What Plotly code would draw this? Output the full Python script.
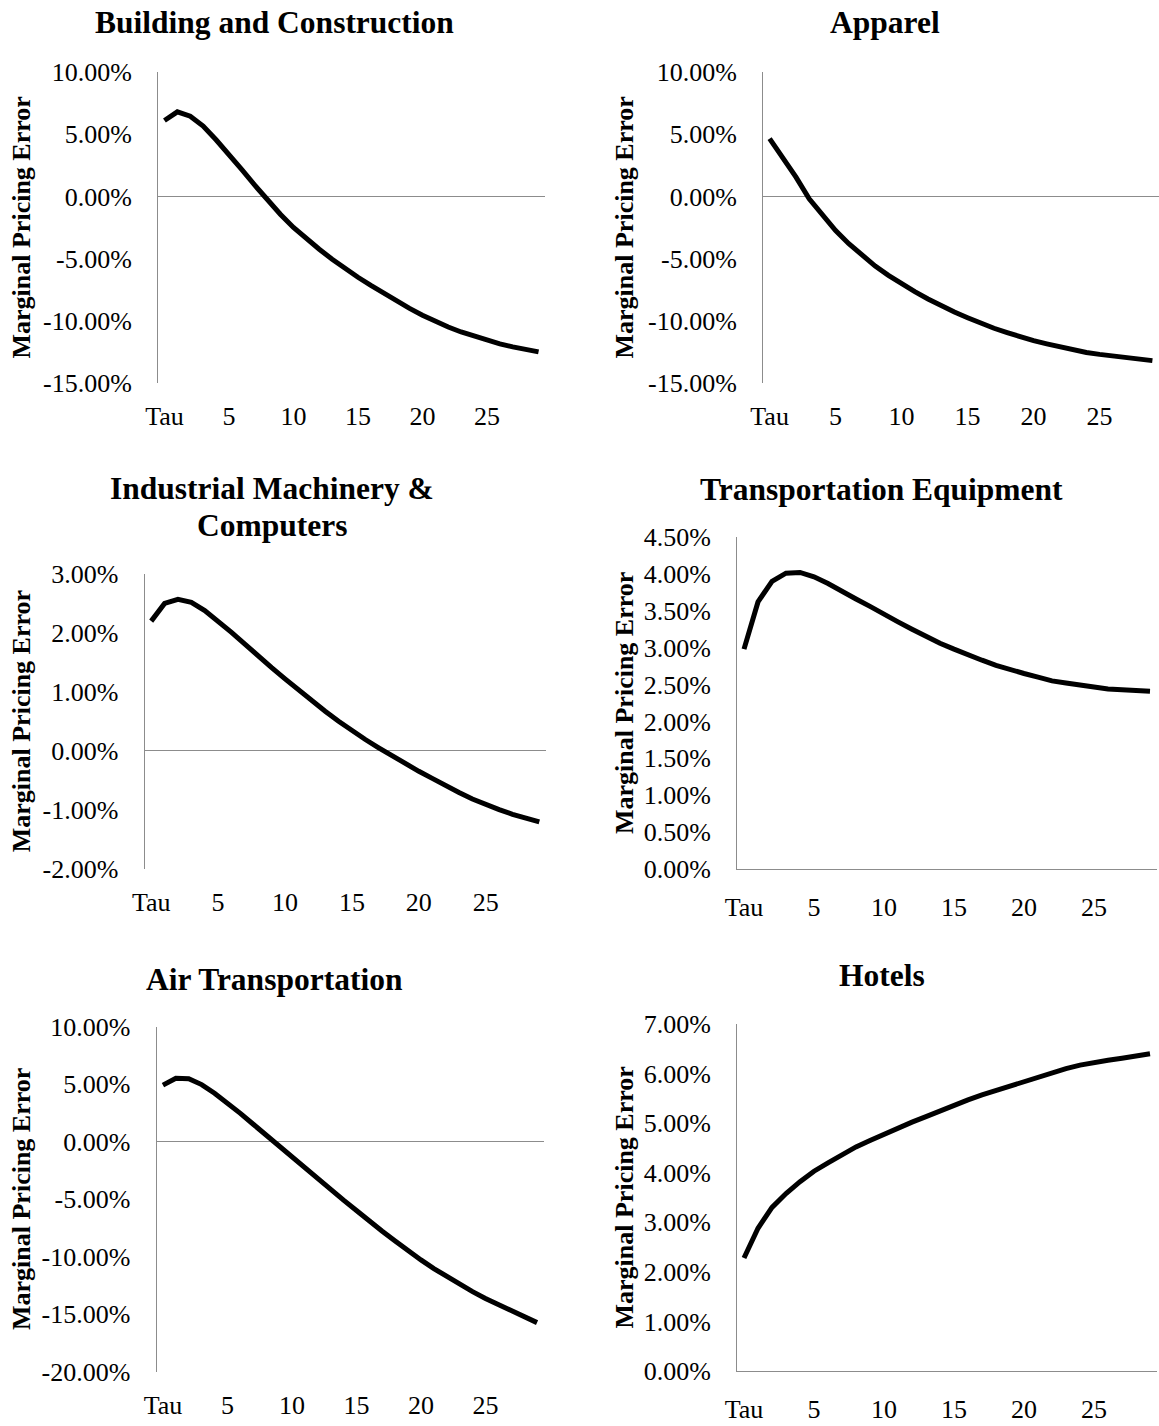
import plotly.graph_objects as go

# Horizon categories: "Tau" followed by 1..29
CATEGORIES = ["Tau"] + [str(i) for i in range(1, 30)]
X_TICKS = ["Tau", "5", "10", "15", "20", "25"]

TITLES = [
    "Building and Construction",
    "Apparel",
    "Industrial Machinery &<br>Computers",
    "Transportation Equipment",
    "Air Transportation",
    "Hotels",
]
Y_TITLE = "Marginal Pricing Error"

# Marginal pricing error (%) by horizon
building = [6.1, 6.8, 6.45, 5.65, 4.55, 3.4, 2.15, 0.9, -0.35, -1.45, -2.5, -3.4, -4.25, -5.05,
            -5.8, -6.5, -7.15, -7.8, -8.4, -9.0, -9.55, -10.05, -10.5, -10.9, -11.25, -11.55,
            -11.85, -12.1, -12.3, -12.5]
apparel = [4.65, 3.15, 1.55, -0.2, -1.55, -2.75, -3.8, -4.75, -5.6, -6.35, -7.05, -7.65, -8.25,
           -8.8, -9.3, -9.75, -10.2, -10.6, -10.95, -11.3, -11.6, -11.85, -12.1, -12.35, -12.55,
           -12.7, -12.85, -13.0, -13.1, -13.2]
machinery = [2.2, 2.5, 2.57, 2.52, 2.38, 2.2, 2.01, 1.81, 1.6, 1.41, 1.22, 1.03, 0.85, 0.67, 0.5,
             0.34, 0.19, 0.05, -0.09, -0.22, -0.35, -0.47, -0.6, -0.71, -0.82, -0.92, -1.0,
             -1.08, -1.15, -1.21]
transport_eq = [2.98, 3.62, 3.9, 4.01, 4.02, 3.96, 3.87, 3.76, 3.66, 3.56, 3.45, 3.35, 3.25, 3.15,
                3.06, 2.98, 2.9, 2.83, 2.76, 2.7, 2.65, 2.6, 2.55, 2.52, 2.49, 2.46, 2.44, 2.43,
                2.42, 2.41]
air = [4.9, 5.5, 5.45, 4.95, 4.2, 3.35, 2.45, 1.5, 0.55, -0.4, -1.4, -2.35, -3.3, -4.2, -5.1, -6.0,
       -6.95, -7.8, -8.65, -9.5, -10.3, -11.05, -11.75, -12.4, -13.05, -13.65, -14.2, -14.75,
       -15.25, -15.75]
hotels = [2.28, 2.88, 3.3, 3.58, 3.82, 4.03, 4.2, 4.37, 4.52, 4.65, 4.78, 4.9, 5.02, 5.13, 5.25,
          5.36, 5.47, 5.57, 5.66, 5.75, 5.84, 5.92, 6.02, 6.1, 6.17, 6.23, 6.27, 6.31, 6.35, 6.4]

SERIES = [building, apparel, machinery, transport_eq, air, hotels]

# y-axis tick values (%) per panel
Y_TICKS = [
    [10, 5, 0, -5, -10, -15],
    [10, 5, 0, -5, -10, -15],
    [3, 2, 1, 0, -1, -2],
    [4.5, 4.0, 3.5, 3.0, 2.5, 2.0, 1.5, 1.0, 0.5, 0.0],
    [10, 5, 0, -5, -10, -15, -20],
    [7, 6, 5, 4, 3, 2, 1, 0],
]

W, H = 1159, 1426
FONT = "Liberation Serif"
GREY = "#8c8c8c"

# panel boxes in pixels: (left, right, top, bottom)
BOXES = [
    (158, 545, 72, 383),
    (763, 1159, 72, 383),
    (144.5, 546, 574, 868.5),
    (737, 1157, 537, 869),
    (156.5, 543.5, 1026.5, 1371.5),
    (737, 1157, 1024, 1371),
]
# centre of the first title line (x, y); extra lines step down by TITLE_LEAD
TITLE_POS = [(274, 23), (885, 23), (272, 488), (882, 489), (274, 979), (882, 975)]
TITLE_LEAD = 37
YTITLE_X = [21, 624, 21, 624, 21, 624]

fig = go.Figure()
annotations = []

for i, (vals, box, ticks) in enumerate(zip(SERIES, BOXES, Y_TICKS)):
    n = "" if i == 0 else str(i + 1)
    left, right, top, bottom = box
    fig.add_trace(go.Scatter(
        x=CATEGORIES, y=vals, mode="lines",
        line=dict(color="black", width=5),
        xaxis="x" + n, yaxis="y" + n, showlegend=False, hoverinfo="skip",
    ))
    lo, hi = min(ticks), max(ticks)
    floor_axis = lo == 0
    fig.update_layout(**{
        "xaxis" + n: dict(
            domain=[left / W, right / W], anchor="y" + n, type="category",
            range=[-0.5, 29.5], tickmode="array", tickvals=X_TICKS, ticktext=X_TICKS,
            showgrid=False, zeroline=False, ticks="", automargin=False,
            showline=floor_axis, linecolor=GREY, linewidth=1,
            tickfont=dict(family=FONT, size=26, color="black"),
            ticklabelstandoff=15,
        ),
        "yaxis" + n: dict(
            domain=[1 - bottom / H, 1 - top / H], anchor="x" + n,
            range=[lo, hi], tickmode="array", tickvals=ticks,
            ticktext=[f"{t:.2f}%" for t in ticks], automargin=False,
            showgrid=False, zeroline=not floor_axis, zerolinecolor=GREY, zerolinewidth=1,
            showline=True, linecolor=GREY, linewidth=1, ticks="",
            tickfont=dict(family=FONT, size=26, color="black"),
            ticklabelstandoff=20,
        ),
    })
    tx, ty = TITLE_POS[i]
    for k, line in enumerate(TITLES[i].split("<br>")):
        annotations.append(dict(
            text="<b>" + line + "</b>", x=tx / W, y=1 - (ty + k * TITLE_LEAD) / H,
            xref="paper", yref="paper", xanchor="center", yanchor="middle", showarrow=False,
            font=dict(family=FONT, size=31.5, color="black"),
        ))
    annotations.append(dict(
        text="<b>" + Y_TITLE + "</b>", x=YTITLE_X[i] / W, y=1 - (top + bottom) / 2 / H,
        xref="paper", yref="paper", xanchor="center", yanchor="middle", textangle=-90,
        showarrow=False, font=dict(family=FONT, size=26, color="black"),
    ))

fig.update_layout(
    width=W, height=H, margin=dict(l=0, r=0, t=0, b=0, autoexpand=False),
    paper_bgcolor="white", plot_bgcolor="white",
    annotations=annotations,
)

fig.write_html(
    "out.html",
    post_script="document.body.style.margin='0';document.body.style.padding='0';",
)
